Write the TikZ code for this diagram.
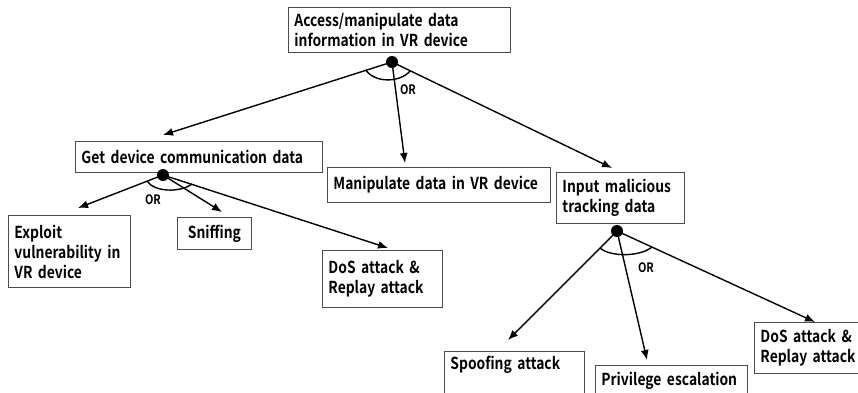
\documentclass[tikz,border=0pt]{standalone}
\usepackage{fontspec}
\setmainfont{Noto Sans CJK KR}[BoldFont={Noto Sans CJK KR Bold}, FakeStretch=0.84]
\usetikzlibrary{arrows.meta,calc}
\begin{document}
\begin{tikzpicture}[x=1pt,y=-1pt,
  box/.style={draw=black!70, line width=0.9pt, anchor=north west, inner xsep=6pt, inner ysep=2pt, align=left, font=\bfseries\fontsize{16.5}{20}\selectfont},
  gate/.style={circle, fill=black, inner sep=0pt, minimum size=12pt},
  link/.style={line width=1.4pt, -{Latex[length=10pt,width=8pt]}},
  orarc/.style={line width=1.4pt},
  orlab/.style={font=\bfseries\fontsize{13}{15}\selectfont, inner sep=0pt}]
\useasboundingbox (0,0) rectangle (858,392);
\clip (0,0) rectangle (858,392);
% boxes
\node[box, text width=210, minimum height=45] (root) at (288,7) {Access/manipulate data\\information in VR device};
\node[box, text width=235, minimum height=31] (comm) at (75,141) {Get device communication data};
\node[box, text width=211, minimum height=35] (manip) at (327,167) {Manipulate data in VR device};
\node[box, text width=116, minimum height=51] (input) at (556,172) {\mbox{Input malicious}\\tracking data};
\node[box, text width=110, minimum height=72] (exploit) at (8,215) {Exploit\\vulnerability in\\VR device};
\node[box, text width=62, minimum height=32, align=center] (sniff) at (177,217) {Sniffing};
\node[box, text width=108, minimum height=57] (dos1) at (322,250) {DoS attack \&\\Replay attack};
\node[box, text width=128, text height=16, text depth=40] (spoof) at (444,351) {Spoofing attack};
\node[box, text width=140, text height=18, text depth=40] (priv) at (595,365) {Privilege escalation};
\node[box, text width=110, minimum height=51] (dos2) at (754,322) {DoS attack \&\\Replay attack};
% gates
\node[gate] (g0) at (392,62) {};
\node[gate] (g1) at (163,175) {};
\node[gate] (g2) at (617,231) {};
% arrow ends
\coordinate (a01) at (163,135);
\coordinate (a02) at (405,163);
\coordinate (a03) at (612,168);
\coordinate (a11) at (78,208);
\coordinate (a12) at (222,212);
\coordinate (a13) at (388,248);
\coordinate (a21) at (508,340);
\coordinate (a22) at (647,360);
\coordinate (a23) at (815,322);
% connectors
\draw[link] (g0.center) -- (a01);
\draw[link] (g0.center) -- (a02);
\draw[link] (g0.center) -- (a03);
\draw[link] (g1.center) -- (a11);
\draw[link] (g1.center) -- (a12);
\draw[link] (g1.center) -- (a13);
\draw[link] (g2.center) -- (a21);
\draw[link] (g2.center) -- (a22);
\draw[link] (g2.center) -- (a23);
% OR arcs
\draw[orarc] ($(g0)+(-26,8)$) .. controls +(8,13) and +(-10,12) .. ($(g0)+(18,9)$);
\draw[orarc] ($(g1)+(-16,6)$) .. controls +(7,11) and +(-12,9) .. ($(g1)+(29,9)$);
\draw[orarc] ($(g2)+(-17,17)$) .. controls +(10,9) and +(-12,10) .. ($(g2)+(35,16)$);
\node[orlab] (or0) at (408,90) {OR};
\node[orlab] (or1) at (153,200) {OR};
\node[orlab] (or2) at (646,268) {OR};
\end{tikzpicture}
\end{document}
